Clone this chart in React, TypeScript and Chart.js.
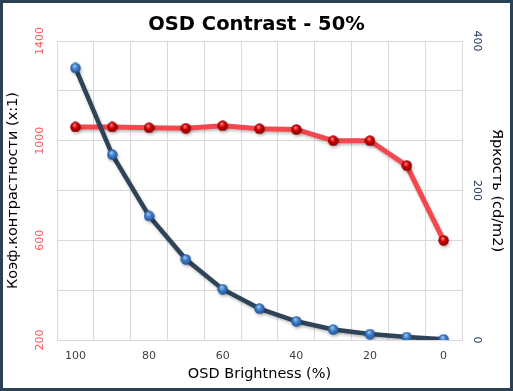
import React, { useEffect, useRef } from 'react';
import { Chart, registerables } from 'chart.js';

Chart.register(...registerables);

const brightnessLabels = ['100', '90', '80', '70', '60', '50', '40', '30', '20', '10', '0'];
const contrastValues = [1055, 1055, 1052, 1050, 1060, 1048, 1045, 1000, 1000, 900, 600];
const luminanceValues = [364, 248, 166, 108, 68, 42, 25, 14, 8, 4, 1];
const xTickLabels = ['100', '80', '60', '40', '20', '0'];
const contrastTickLabels = [200, 600, 1000, 1400];
const luminanceTickLabels = [0, 200, 400];

const FONT = 'DejaVu Sans';

function sphere(light: string, base: string, dark: string, size: number) {
  const c = document.createElement('canvas');
  c.width = size;
  c.height = size;
  const g = c.getContext('2d')!;
  const r = size / 2;
  const grad = g.createRadialGradient(r * 0.8, r * 0.6, r * 0.05, r, r, r);
  grad.addColorStop(0, light);
  grad.addColorStop(0.45, base);
  grad.addColorStop(1, dark);
  g.fillStyle = grad;
  g.beginPath();
  g.arc(r, r, r - 0.3, 0, Math.PI * 2);
  g.fill();
  return c;
}

const shadowPlugin = {
  id: 'lineShadow',
  beforeDatasetDraw(chart: any) {
    const ctx = chart.ctx;
    ctx.save();
    ctx.shadowColor = 'rgba(0,0,0,0.25)';
    ctx.shadowBlur = 3;
    ctx.shadowOffsetX = 1;
    ctx.shadowOffsetY = 2;
  },
  afterDatasetDraw(chart: any) {
    chart.ctx.restore();
  },
};

export default function App() {
  const ref = useRef<HTMLCanvasElement>(null);

  useEffect(() => {
    document.body.style.margin = '0';
    const blueDot = sphere('#a9ccf2', '#3f7fcb', '#1f4f8f', 11);
    const redDot = sphere('#ff8a8a', '#d40000', '#7a0000', 11);
    const chart = new Chart(ref.current!, {
      type: 'line',
      data: {
        labels: brightnessLabels,
        datasets: [
          {
            label: 'Яркость',
            data: luminanceValues,
            yAxisID: 'yR',
            borderColor: '#2e4358',
            borderWidth: 4.5,
            pointStyle: blueDot as any,
            pointRadius: 5.5,
            tension: 0,
          },
          {
            label: 'Контраст',
            data: contrastValues,
            yAxisID: 'yL',
            borderColor: '#f5474d',
            borderWidth: 5,
            pointStyle: redDot as any,
            pointRadius: 5.5,
            tension: 0,
          },
        ],
      },
      options: {
        responsive: false,
        animation: false,
        devicePixelRatio: 1,
        layout: { padding: 0 },
        plugins: {
          legend: { display: false },
          tooltip: { enabled: false },
          title: {
            display: true,
            text: 'OSD Contrast - 50%',
            color: '#000',
            font: { family: FONT, size: 19.5, weight: 'bold' },
            padding: { top: 9.8, bottom: 4.8 },
          },
        },
        scales: {
          x: {
            type: 'category',
            offset: true,
            grid: { offset: true, color: '#d9d9d9', drawTicks: false },
            border: { display: true, color: '#d9d9d9' },
            ticks: {
              autoSkip: false,
              maxRotation: 0,
              color: '#404040',
              padding: 10,
              font: { family: FONT, size: 11 },
              callback: (_v: any, i: number) =>
                xTickLabels.includes(brightnessLabels[i]) ? brightnessLabels[i] : '',
            },
            title: {
              display: true,
              text: 'OSD Brightness (%)',
              color: '#000',
              font: { family: FONT, size: 14.5 },
              padding: { top: 0, bottom: 4.6 },
            },
            afterFit: (s: any) => {
              s.height = 48;
            },
          },
          yL: {
            type: 'linear',
            position: 'left',
            min: 200,
            max: 1400,
            grid: { color: '#d9d9d9', drawTicks: false },
            border: { display: true, color: '#d9d9d9' },
            ticks: {
              stepSize: 200,
              minRotation: 90,
              crossAlign: 'center',
              padding: 3,
              color: '#ff5555',
              font: { family: FONT, size: 11 },
              callback: (v: any) => (contrastTickLabels.includes(Number(v)) ? String(v) : ''),
            },
            title: {
              display: true,
              text: 'Коэф.контрастности (x:1)',
              color: '#000',
              font: { family: FONT, size: 14.5 },
              padding: { top: 2, bottom: 0 },
            },
            afterFit: (s: any) => {
              s.width = 54;
            },
          },
          yR: {
            type: 'linear',
            position: 'right',
            min: 0,
            max: 400,
            grid: { display: false, drawTicks: false },
            border: { display: true, color: '#d9d9d9' },
            ticks: {
              stepSize: 200,
              minRotation: -90,
              crossAlign: 'center',
              padding: 4.5,
              color: '#1f3864',
              font: { family: FONT, size: 11 },
              callback: (v: any) => (luminanceTickLabels.includes(Number(v)) ? String(v) : ''),
            },
            title: {
              display: true,
              text: 'Яркость (cd/m2)',
              color: '#000',
              font: { family: FONT, size: 14.5 },
              padding: { top: 5, bottom: 0 },
            },
            afterFit: (s: any) => {
              s.width = 48;
            },
          },
        },
      } as any,
      plugins: [shadowPlugin],
    });
    return () => chart.destroy();
  }, []);

  return (
    <div
      style={{
        width: 513,
        height: 391,
        boxSizing: 'border-box',
        border: '3px solid #2d4154',
        background: '#fff',
      }}
    >
      <canvas ref={ref} width={507} height={385} style={{ display: 'block', width: 507, height: 385 }} />
    </div>
  );
}
